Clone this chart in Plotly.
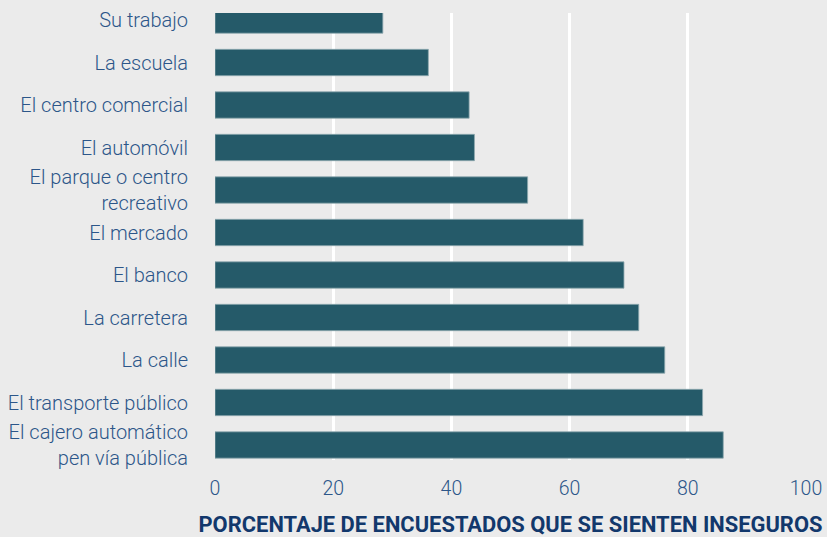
import plotly.graph_objects as go

categories = [
    "Su trabajo",
    "La escuela",
    "El centro comercial",
    "El automóvil",
    "El parque o centro<br>recreativo",
    "El mercado",
    "El banco",
    "La carretera",
    "La calle",
    "El transporte público",
    "El cajero automático<br>pen vía pública",
]
values = [28.4, 36.1, 43.0, 43.9, 52.9, 62.3, 69.2, 71.7, 76.1, 82.5, 86.0]
x_ticks = [0, 20, 40, 60, 80, 100]
x_title = "PORCENTAJE DE ENCUESTADOS QUE SE SIENTEN INSEGUROS"

bar_color = "#255a69"
bg = "#ebebeb"
label_color = "#2c5689"
title_color = "#12386c"
font_family = "Roboto, Inter, sans-serif"

fig = go.Figure(
    go.Bar(
        x=values,
        y=categories,
        orientation="h",
        width=0.62,
        marker=dict(color=bar_color, line=dict(color="#8fa9b0", width=0.8)),
        hoverinfo="x+y",
    )
)

fig.update_layout(
    width=827,
    height=537,
    margin=dict(l=215, r=21, t=13, b=77),
    paper_bgcolor=bg,
    plot_bgcolor=bg,
    showlegend=False,
    font=dict(family=font_family, size=20, color=label_color),
)

fig.update_xaxes(
    range=[0, 100],
    tickvals=x_ticks,
    ticktext=[str(v) for v in x_ticks],
    showgrid=True,
    gridcolor="white",
    gridwidth=2.5,
    zeroline=False,
    showline=False,
    ticks="",
    automargin=False,
    ticklabelstandoff=14,
    tickfont=dict(size=19.5, color=label_color, weight=300),
    title=dict(
        text=x_title,
        standoff=24,
        font=dict(size=21.9, color=title_color, weight="bold"),
    ),
)

fig.update_yaxes(
    type="category",
    categoryorder="array",
    categoryarray=categories,
    range=[10.353, -0.165],
    showgrid=False,
    zeroline=False,
    showline=False,
    ticks="",
    automargin=False,
    ticklabelstandoff=26,
    tickfont=dict(size=20, color=label_color, weight=300),
)

fig.write_html(
    "out.html",
    config={"displayModeBar": False},
    post_script="document.body.style.margin='0px';document.body.style.background='#ebebeb';",
)
